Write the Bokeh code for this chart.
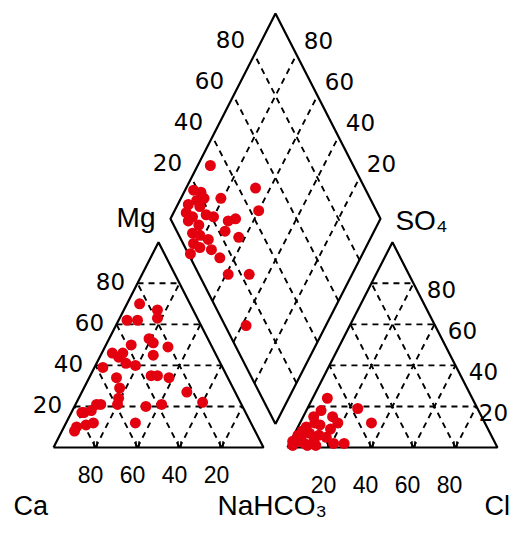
import numpy as np
from bokeh.plotting import figure
from bokeh.embed import file_html
from bokeh.resources import INLINE
from bokeh.core.properties import value

# ---- data (percent) ----
# cation triangle: Ca, Mg (Na+K = rest)
cat_ca = [24, 17, 19, 34, 29, 28, 27, 38, 21, 30, 49, 47, 45, 44, 57, 41, 36, 33, 28,
          53, 54, 57, 59, 23, 46, 38, 18, 69, 73, 77, 84, 79, 75, 55, 86, 67, 78]
cat_mg = [70, 67, 63, 62, 62, 53, 51, 50, 49, 45, 46, 44, 41, 46, 39, 40, 35, 35, 34,
          34, 29, 24, 21, 27, 20, 21, 22, 21, 18, 17, 10, 11, 12, 12, 8, 21, 17]
# anion triangle: Cl, SO4 (HCO3 = rest)
an_cl = [7, 24, 34, 2, 4, 7, 4, 7, 4, 7, 5, 10, 12, 11, 16, 16, 14, 18, 21, 26, 7, 1, 2, 9, 13, 3]
an_so4 = [24, 19, 12, 1, 3, 2, 5, 7, 10, 12, 15, 11, 6, 3, 5, 9, 15, 12, 2, 2, 18, 3, 6, 1, 1, 8]
# diamond: Ca+Mg, SO4+Cl
dia_camg = [94, 81, 67, 60, 80, 69, 72, 71, 63, 67, 59, 49, 38,
            96, 92, 89, 92, 95, 89, 94, 90, 84, 91, 85, 86, 82, 77, 83, 79, 82, 73]
dia_so4cl = [32, 29, 48, 44, 21, 31, 27, 23, 28, 14, 14, 24, 10,
             18, 21, 21, 17, 12, 17, 9, 11, 18, 8, 12, 7, 10, 13, 5, 7, 1, 12]

tick_vals = [20, 40, 60, 80]
tick_labels = ["20", "40", "60", "80"]

G = 0.114
H = np.sqrt(3) / 2


def cation_xy(ca, mg):
    ca = np.asarray(ca, float) / 100
    mg = np.asarray(mg, float) / 100
    na = 1 - ca - mg
    return na + mg / 2, mg * H


def anion_xy(cl, so4):
    cl = np.asarray(cl, float) / 100
    so4 = np.asarray(so4, float) / 100
    return 1 + G + cl + so4 / 2, so4 * H


def diamond_xy(camg, s):
    a = np.asarray(camg, float) / 100
    s = np.asarray(s, float) / 100
    bx, by = 1 + G / 2, G * H
    return bx - 0.5 * a + 0.5 * s, by + H * a + H * s


p = figure(width=509, height=521, x_range=(-0.2524, 2.1714), y_range=(-0.3122, 1.8861),
           output_backend="svg", toolbar_location=None, min_border=0,
           x_axis_location=None, y_axis_location=None)
p.grid.visible = False
p.outline_line_color = None
p.background_fill_color = "white"

DASH = dict(line_color="black", line_width=1.9, line_dash="6 5")
EDGE = dict(line_color="black", line_width=2.2)

t = np.array(tick_vals) / 100.0

# ---- grids ----
xs, ys = [], []
for v in t:
    # left triangle
    xs += [[0.5 * v, 1 - 0.5 * v], [1 - v, 0.5 * (1 - v)], [v, v + 0.5 * (1 - v)]]
    ys += [[H * v, H * v], [0, H * (1 - v)], [0, H * (1 - v)]]
    # right triangle
    o = 1 + G
    xs += [[o + 0.5 * v, o + 1 - 0.5 * v], [o + 1 - v, o + 0.5 * (1 - v)], [o + v, o + v + 0.5 * (1 - v)]]
    ys += [[H * v, H * v], [0, H * (1 - v)], [0, H * (1 - v)]]
    # diamond
    x1, y1 = diamond_xy([v * 100, v * 100], [0, 100])
    xs.append(list(x1)); ys.append(list(y1))
    x2, y2 = diamond_xy([0, 100], [v * 100, v * 100])
    xs.append(list(x2)); ys.append(list(y2))
p.multi_line(xs, ys, **DASH)

# ---- outlines ----
p.line([0, 1, 0.5, 0], [0, 0, H, 0], **EDGE)
p.line([1 + G, 2 + G, 1.5 + G, 1 + G], [0, 0, H, 0], **EDGE)
dx, dy = diamond_xy([0, 100, 100, 0, 0], [0, 0, 100, 100, 0])
p.line(dx, dy, **EDGE)

# ---- bottom ticks ----
txs, tys = [], []
for v in t:
    for base in (1 - v, 1 + G + v):
        for d in (-0.007, 0.007):
            txs.append([base + d, base + d])
            tys.append([0, 0.026])
p.multi_line(txs, tys, line_color="black", line_width=1.5)

# ---- points ----
RED = "#e3000f"
cx, cy = cation_xy(cat_ca, cat_mg)
p.scatter(cx, cy, size=11, fill_color=RED, line_color=None)
ax, ay = anion_xy(an_cl, an_so4)
p.scatter(ax, ay, size=11, fill_color=RED, line_color=None)
qx, qy = diamond_xy(dia_camg, dia_so4cl)
p.scatter(qx, qy, size=11, fill_color=RED, line_color=None)

SIDE = dict(text_font=value("DejaVu Sans"), text_color="black", text_align="center",
            text_baseline="middle", text_font_size="23px")
BOT = dict(text_font=value("Liberation Sans"), text_color="black", text_align="center",
           text_baseline="middle", text_font_size="23px")

# left triangle Mg (left edge)
p.text(x=list(0.5 * t), y=list(H * t), text=tick_labels, x_offset=-27, y_offset=-2, **SIDE)
# left triangle Ca (bottom)
p.text(x=list(1 - t), y=[0] * 4, text=tick_labels, x_offset=-5, y_offset=27, **BOT)
# right triangle Cl (bottom)
p.text(x=list(1 + G + t), y=[0] * 4, text=tick_labels, x_offset=-6, y_offset=37, **BOT)
# right triangle SO4 (right edge)
p.text(x=list(2 + G - 0.5 * t), y=list(H * t), text=tick_labels,
       x_offset=[17, 28, 28, 28], y_offset=6, **SIDE)
# diamond upper-left edge (SO4+Cl)
ulx, uly = diamond_xy([100] * 4, list(t * 100))
p.text(x=list(ulx), y=list(uly), text=tick_labels, x_offset=-24, y_offset=-15, **SIDE)
# diamond upper-right edge (Ca+Mg)
urx, ury = diamond_xy(list(t * 100), [100] * 4)
p.text(x=list(urx), y=list(ury), text=tick_labels, x_offset=22, y_offset=-14, **SIDE)

# ---- axis names ----
NAME = dict(text_font=value("Liberation Sans"), text_color="black", text_baseline="middle")
p.text(x=[0.5], y=[H], text=["Mg"], x_offset=-3, y_offset=-25, text_align="right",
       text_font_size="28px", **NAME)
p.text(x=[1.5 + G], y=[H], text=["SO₄"], x_offset=3, y_offset=-22, text_align="left",
       text_font_size="28px", **NAME)
p.text(x=[0], y=[0], text=["Ca"], x_offset=-40, y_offset=58, text_align="left",
       text_font_size="27px", **NAME)
p.text(x=[1 + G / 2], y=[0], text=["NaHCO₃"], x_offset=-58, y_offset=58, text_align="left",
       text_font_size="28px", **NAME)
p.text(x=[2 + G], y=[0], text=["Cl"], x_offset=-13, y_offset=58, text_align="left",
       text_font_size="27px", **NAME)

open("out.html", "w").write(file_html(p, INLINE))
